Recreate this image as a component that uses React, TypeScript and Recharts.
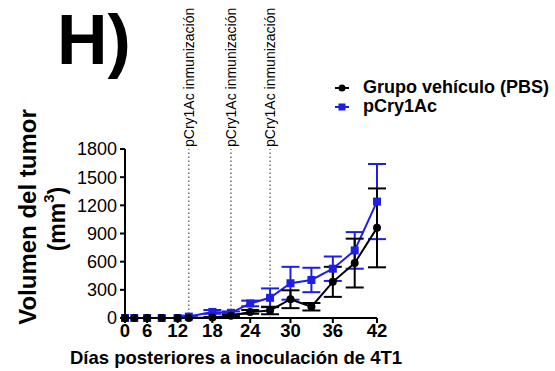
import React from "react";
import { ErrorBar, Legend, Line, LineChart, ReferenceLine, XAxis, YAxis } from "recharts";

const FONT = '"Liberation Sans", Arial, Helvetica, sans-serif';
const BLUE = "#1e1ee6";

// days after 4T1 inoculation
const days = [0, 3, 6, 9, 12, 14, 18, 21, 24, 27, 30, 33, 36, 39, 42];
// tumour volume (mm3), mean and error
const pbsMean = [0, 0, 0, 0, 0, 0, 5, 25, 65, 80, 200, 120, 385, 585, 960];
const pbsErr = [0, 0, 0, 0, 0, 0, 5, 10, 20, 40, 95, 40, 160, 260, 420];
const cryMean = [0, 0, 0, 0, 0, 15, 65, 55, 155, 215, 370, 405, 525, 720, 1240];
const cryErr = [0, 0, 0, 0, 0, 10, 20, 15, 30, 100, 175, 130, 130, 195, 400];

const xTicks = [0, 6, 12, 18, 24, 30, 36, 42];
const yTicks = [0, 300, 600, 900, 1200, 1500, 1800];
const immunizationDays = [14, 21, 27];

const data = days.map((day, i) => ({
  day,
  pbs: pbsMean[i],
  pbsErr: pbsErr[i],
  cry: cryMean[i],
  cryErr: cryErr[i],
}));

// the original x axis is stretched towards the end, a power scale is close to it
function powScale(exponent: number): any {
  let dom = [0, 1];
  let rng = [0, 1];
  const scale: any = (v: number) => {
    const t = (Number(v) - dom[0]) / (dom[1] - dom[0]);
    const s = Math.sign(t) * Math.pow(Math.abs(t), exponent);
    return rng[0] + (rng[1] - rng[0]) * s;
  };
  scale.domain = (d?: any) => {
    if (d === undefined) return dom.slice();
    dom = [Number(d[0]), Number(d[d.length - 1])];
    return scale;
  };
  scale.range = (r?: any) => {
    if (r === undefined) return rng.slice();
    rng = [Number(r[0]), Number(r[r.length - 1])];
    return scale;
  };
  scale.invert = (p: number) => {
    const s = (p - rng[0]) / (rng[1] - rng[0]);
    return dom[0] + (dom[1] - dom[0]) * Math.sign(s) * Math.pow(Math.abs(s), 1 / exponent);
  };
  scale.ticks = (n = 10) => {
    const step = (dom[1] - dom[0]) / n;
    return Array.from({ length: n + 1 }, (_, i) => dom[0] + i * step);
  };
  scale.tickFormat = () => (v: number) => String(v);
  scale.nice = () => scale;
  scale.clamp = () => scale;
  scale.copy = () => powScale(exponent).domain(dom).range(rng);
  return scale;
}

const xScale = powScale(1.25);

function ImmLabel(props: any) {
  const { viewBox } = props;
  const x = viewBox.x;
  const y = viewBox.y - 2;
  return (
    <text
      x={x}
      y={y}
      transform={`rotate(-90 ${x} ${y})`}
      textAnchor="start"
      dominantBaseline="central"
      fontFamily={FONT}
      fontSize={14}
      fill="#000"
    >
      pCry1Ac inmunización
    </text>
  );
}

function YLabel() {
  return (
    <g fontFamily={FONT} fontWeight="bold" fill="#000">
      <text
        x={27}
        y={217}
        transform="rotate(-90 27 217)"
        textAnchor="middle"
        dominantBaseline="central"
        fontSize={24}
      >
        Volumen del tumor
      </text>
      <text
        x={57}
        y={219}
        transform="rotate(-90 57 219)"
        textAnchor="middle"
        dominantBaseline="central"
        fontSize={23}
      >
        (mm<tspan baselineShift="super" fontSize={15}>3</tspan>)
      </text>
    </g>
  );
}

function XLabel() {
  return (
    <text
      x={236}
      y={364}
      textAnchor="middle"
      fontFamily={FONT}
      fontWeight="bold"
      fontSize={18.5}
      fill="#000"
    >
      Días posteriores a inoculación de 4T1
    </text>
  );
}

function SquareDot(props: any) {
  const { cx, cy, index } = props;
  if (cx == null || cy == null) return <g key={`sq-${index}`} />;
  return <rect key={`sq-${index}`} x={cx - 4} y={cy - 4} width={8} height={8} fill={BLUE} />;
}

const legendItems = [
  { label: "Grupo vehículo (PBS)", color: "#000", shape: "circle" },
  { label: "pCry1Ac", color: BLUE, shape: "square" },
];

function LegendBox() {
  return (
    <div style={{ fontFamily: FONT, fontWeight: "bold", fontSize: 18, color: "#000" }}>
      {legendItems.map((item) => (
        <div key={item.label} style={{ display: "flex", alignItems: "center", height: 19 }}>
          <svg width={26} height={12} style={{ marginRight: 4 }}>
            <line x1={2} y1={6} x2={16} y2={6} stroke={item.color} strokeWidth={2} />
            {item.shape === "circle" ? (
              <circle cx={9} cy={6} r={3.5} fill={item.color} />
            ) : (
              <rect x={5.5} y={2.5} width={7} height={7} fill={item.color} />
            )}
          </svg>
          <span>{item.label}</span>
        </div>
      ))}
    </div>
  );
}

export default function App() {
  return (
    <div style={{ position: "absolute", left: 0, top: 0, width: 555, height: 371, background: "#fff" }}>
      <div
        style={{
          position: "absolute",
          left: 57,
          top: 0,
          fontFamily: FONT,
          fontWeight: "bold",
          fontSize: 70,
          lineHeight: "80px",
          color: "#000",
        }}
      >
        H)
      </div>
      <LineChart
        width={555}
        height={371}
        data={data}
        margin={{ top: 149, right: 178, bottom: 0, left: 0 }}
      >
        <XAxis
          dataKey="day"
          type="number"
          domain={[0, 42]}
          scale={xScale}
          ticks={xTicks}
          interval={0}
          height={53}
          tickSize={5}
          tickMargin={1}
          tick={{ fontSize: 18.5, fontWeight: "bold", fill: "#000", fontFamily: FONT }}
          axisLine={{ stroke: "#000", strokeWidth: 2 }}
          tickLine={{ stroke: "#000", strokeWidth: 2 }}
          label={<XLabel />}
        />
        <YAxis
          type="number"
          domain={[0, 1800]}
          ticks={yTicks}
          interval={0}
          width={125}
          tickSize={5}
          tickMargin={3}
          tick={{ fontSize: 18, fill: "#000", fontFamily: FONT }}
          axisLine={{ stroke: "#000", strokeWidth: 2 }}
          tickLine={{ stroke: "#000", strokeWidth: 2 }}
          label={<YLabel />}
        />
        {immunizationDays.map((d) => (
          <ReferenceLine
            key={d}
            x={d}
            stroke="#555"
            strokeWidth={1.3}
            strokeDasharray="1.5 2.5"
            label={<ImmLabel />}
          />
        ))}
        <Legend
          layout="vertical"
          align="center"
          verticalAlign="middle"
          wrapperStyle={{ left: 333, top: 78, width: 222 }}
          content={() => <LegendBox />}
        />
        <Line
          dataKey="cry"
          stroke={BLUE}
          strokeWidth={2}
          dot={<SquareDot />}
          isAnimationActive={false}
        >
          <ErrorBar dataKey="cryErr" direction="y" width={9} stroke={BLUE} strokeWidth={2} />
        </Line>
        <Line
          dataKey="pbs"
          stroke="#000"
          strokeWidth={2}
          dot={{ r: 4, fill: "#000", stroke: "#000", strokeWidth: 0 }}
          isAnimationActive={false}
        >
          <ErrorBar dataKey="pbsErr" direction="y" width={9} stroke="#000" strokeWidth={2} />
        </Line>
      </LineChart>
    </div>
  );
}
